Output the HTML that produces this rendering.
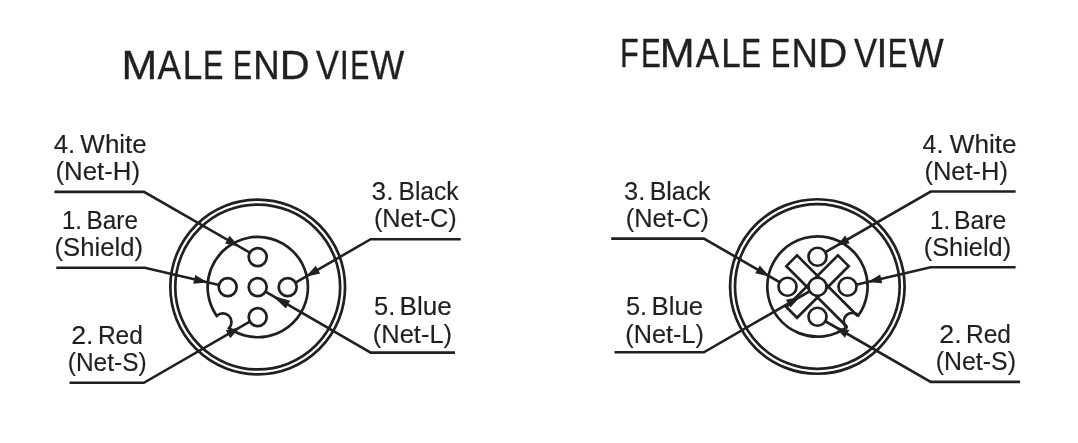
<!DOCTYPE html><html><head><meta charset="utf-8"><style>html,body{margin:0;padding:0;background:#fff;}svg{display:block;will-change:transform;} text{font-family:"Liberation Sans",sans-serif;}</style></head><body>
<svg width="1078" height="443" viewBox="0 0 1078 443">
<rect width="1078" height="443" fill="#fff"/>
<text transform="translate(125.08,78.62) scale(1.0505,1)" x="-3.34" y="0" font-size="40.77" fill="#231f20" stroke="#231f20" stroke-width="0.35">M</text>
<text transform="translate(157.48,78.62) scale(0.8637,1)" x="-0.08" y="0" font-size="40.77" fill="#231f20" stroke="#231f20" stroke-width="0.35">A</text>
<text transform="translate(185.68,78.62) scale(0.8594,1)" x="-3.34" y="0" font-size="40.77" fill="#231f20" stroke="#231f20" stroke-width="0.35">L</text>
<text transform="translate(205.48,78.62) scale(0.7490,1)" x="-3.34" y="0" font-size="40.77" fill="#231f20" stroke="#231f20" stroke-width="0.35">E</text>
<text transform="translate(235.28,78.62) scale(0.6992,1)" x="-3.34" y="0" font-size="40.77" fill="#231f20" stroke="#231f20" stroke-width="0.35">E</text>
<text transform="translate(256.18,78.62) scale(0.8979,1)" x="-3.34" y="0" font-size="40.77" fill="#231f20" stroke="#231f20" stroke-width="0.35">N</text>
<text transform="translate(283.18,78.62) scale(1.0166,1)" x="-3.34" y="0" font-size="40.77" fill="#231f20" stroke="#231f20" stroke-width="0.35">D</text>
<text transform="translate(316.07,78.62) scale(0.8403,1)" x="-0.18" y="0" font-size="40.77" fill="#231f20" stroke="#231f20" stroke-width="0.35">V</text>
<text transform="translate(342.88,78.62) scale(0.8021,1)" x="-3.76" y="0" font-size="40.77" fill="#231f20" stroke="#231f20" stroke-width="0.35">I</text>
<text transform="translate(352.48,78.62) scale(0.6992,1)" x="-3.34" y="0" font-size="40.77" fill="#231f20" stroke="#231f20" stroke-width="0.35">E</text>
<text transform="translate(370.57,78.62) scale(0.8765,1)" x="-0.18" y="0" font-size="40.77" fill="#231f20" stroke="#231f20" stroke-width="0.35">W</text>
<text transform="translate(622.57,66.62) scale(0.7529,1)" x="-3.33" y="0" font-size="40.63" fill="#231f20" stroke="#231f20" stroke-width="0.35">F</text>
<text transform="translate(643.47,66.62) scale(0.7289,1)" x="-3.33" y="0" font-size="40.63" fill="#231f20" stroke="#231f20" stroke-width="0.35">E</text>
<text transform="translate(663.17,66.62) scale(1.0285,1)" x="-3.33" y="0" font-size="40.63" fill="#231f20" stroke="#231f20" stroke-width="0.35">M</text>
<text transform="translate(695.77,66.62) scale(0.8668,1)" x="-0.08" y="0" font-size="40.63" fill="#231f20" stroke="#231f20" stroke-width="0.35">A</text>
<text transform="translate(724.07,66.62) scale(0.8625,1)" x="-3.33" y="0" font-size="40.63" fill="#231f20" stroke="#231f20" stroke-width="0.35">L</text>
<text transform="translate(743.77,66.62) scale(0.7289,1)" x="-3.33" y="0" font-size="40.63" fill="#231f20" stroke="#231f20" stroke-width="0.35">E</text>
<text transform="translate(773.38,66.62) scale(0.7108,1)" x="-3.33" y="0" font-size="40.63" fill="#231f20" stroke="#231f20" stroke-width="0.35">E</text>
<text transform="translate(794.47,66.62) scale(0.9011,1)" x="-3.33" y="0" font-size="40.63" fill="#231f20" stroke="#231f20" stroke-width="0.35">N</text>
<text transform="translate(821.57,66.62) scale(0.9912,1)" x="-3.33" y="0" font-size="40.63" fill="#231f20" stroke="#231f20" stroke-width="0.35">D</text>
<text transform="translate(854.17,66.62) scale(0.8508,1)" x="-0.18" y="0" font-size="40.63" fill="#231f20" stroke="#231f20" stroke-width="0.35">V</text>
<text transform="translate(880.07,66.62) scale(0.9634,1)" x="-3.75" y="0" font-size="40.63" fill="#231f20" stroke="#231f20" stroke-width="0.35">I</text>
<text transform="translate(890.27,66.62) scale(0.7244,1)" x="-3.33" y="0" font-size="40.63" fill="#231f20" stroke="#231f20" stroke-width="0.35">E</text>
<text transform="translate(908.88,66.62) scale(0.9112,1)" x="-0.18" y="0" font-size="40.63" fill="#231f20" stroke="#231f20" stroke-width="0.35">W</text>
<text transform="translate(54.38,153.33) scale(1.0220,1)" x="-0.58" y="0" font-size="25.22" fill="#231f20" stroke="#231f20" stroke-width="0.15">4.</text>
<text transform="translate(80.48,153.33) scale(1.0304,1)" x="-0.11" y="0" font-size="25.22" fill="#231f20" stroke="#231f20" stroke-width="0.15">White</text>
<text transform="translate(56.98,180.33) scale(1.0255,1)" x="-1.56" y="0" font-size="25.22" fill="#231f20" stroke="#231f20" stroke-width="0.15">(Net-H)</text>
<text transform="translate(63.78,229.12) scale(0.9489,1)" x="-1.92" y="0" font-size="25.22" fill="#231f20" stroke="#231f20" stroke-width="0.15">1.</text>
<text transform="translate(88.58,229.12) scale(0.9655,1)" x="-2.07" y="0" font-size="25.22" fill="#231f20" stroke="#231f20" stroke-width="0.15">Bare</text>
<text transform="translate(56.08,256.12) scale(1.0189,1)" x="-1.56" y="0" font-size="25.22" fill="#231f20" stroke="#231f20" stroke-width="0.15">(Shield)</text>
<text transform="translate(72.48,343.73) scale(1.0624,1)" x="-1.27" y="0" font-size="25.22" fill="#231f20" stroke="#231f20" stroke-width="0.15">2.</text>
<text transform="translate(99.88,343.73) scale(0.9737,1)" x="-2.07" y="0" font-size="25.22" fill="#231f20" stroke="#231f20" stroke-width="0.15">Red</text>
<text transform="translate(69.28,370.73) scale(0.9708,1)" x="-1.56" y="0" font-size="25.22" fill="#231f20" stroke="#231f20" stroke-width="0.15">(Net-S)</text>
<text transform="translate(372.57,200.23) scale(1.0383,1)" x="-0.96" y="0" font-size="25.22" fill="#231f20" stroke="#231f20" stroke-width="0.15">3.</text>
<text transform="translate(400.47,200.23) scale(0.9768,1)" x="-2.07" y="0" font-size="25.22" fill="#231f20" stroke="#231f20" stroke-width="0.15">Black</text>
<text transform="translate(375.47,227.23) scale(1.0029,1)" x="-1.56" y="0" font-size="25.22" fill="#231f20" stroke="#231f20" stroke-width="0.15">(Net-C)</text>
<text transform="translate(374.97,315.12) scale(1.0130,1)" x="-1.01" y="0" font-size="25.22" fill="#231f20" stroke="#231f20" stroke-width="0.15">5.</text>
<text transform="translate(401.68,315.12) scale(1.0352,1)" x="-2.07" y="0" font-size="25.22" fill="#231f20" stroke="#231f20" stroke-width="0.15">Blue</text>
<text transform="translate(374.38,342.73) scale(1.0108,1)" x="-1.56" y="0" font-size="25.22" fill="#231f20" stroke="#231f20" stroke-width="0.15">(Net-L)</text>
<text transform="translate(624.98,200.23) scale(1.0102,1)" x="-0.96" y="0" font-size="25.22" fill="#231f20" stroke="#231f20" stroke-width="0.15">3.</text>
<text transform="translate(651.68,200.23) scale(0.9885,1)" x="-2.07" y="0" font-size="25.22" fill="#231f20" stroke="#231f20" stroke-width="0.15">Black</text>
<text transform="translate(627.38,227.23) scale(1.0066,1)" x="-1.56" y="0" font-size="25.22" fill="#231f20" stroke="#231f20" stroke-width="0.15">(Net-C)</text>
<text transform="translate(626.88,315.12) scale(1.0074,1)" x="-1.01" y="0" font-size="25.22" fill="#231f20" stroke="#231f20" stroke-width="0.15">5.</text>
<text transform="translate(653.58,315.12) scale(1.0225,1)" x="-2.07" y="0" font-size="25.22" fill="#231f20" stroke="#231f20" stroke-width="0.15">Blue</text>
<text transform="translate(626.88,342.93) scale(1.0029,1)" x="-1.56" y="0" font-size="25.22" fill="#231f20" stroke="#231f20" stroke-width="0.15">(Net-L)</text>
<text transform="translate(923.18,153.43) scale(0.9834,1)" x="-0.58" y="0" font-size="25.22" fill="#231f20" stroke="#231f20" stroke-width="0.15">4.</text>
<text transform="translate(949.88,153.43) scale(1.0383,1)" x="-0.11" y="0" font-size="25.22" fill="#231f20" stroke="#231f20" stroke-width="0.15">White</text>
<text transform="translate(925.98,180.43) scale(1.0117,1)" x="-1.56" y="0" font-size="25.22" fill="#231f20" stroke="#231f20" stroke-width="0.15">(Net-H)</text>
<text transform="translate(931.88,229.12) scale(0.9489,1)" x="-1.92" y="0" font-size="25.22" fill="#231f20" stroke="#231f20" stroke-width="0.15">1.</text>
<text transform="translate(956.08,229.12) scale(0.9814,1)" x="-2.07" y="0" font-size="25.22" fill="#231f20" stroke="#231f20" stroke-width="0.15">Bare</text>
<text transform="translate(925.28,256.12) scale(1.0057,1)" x="-1.56" y="0" font-size="25.22" fill="#231f20" stroke="#231f20" stroke-width="0.15">(Shield)</text>
<text transform="translate(940.58,343.32) scale(1.0624,1)" x="-1.27" y="0" font-size="25.22" fill="#231f20" stroke="#231f20" stroke-width="0.15">2.</text>
<text transform="translate(967.98,343.32) scale(0.9737,1)" x="-2.07" y="0" font-size="25.22" fill="#231f20" stroke="#231f20" stroke-width="0.15">Red</text>
<text transform="translate(937.28,370.32) scale(0.9875,1)" x="-1.56" y="0" font-size="25.22" fill="#231f20" stroke="#231f20" stroke-width="0.15">(Net-S)</text>
<polyline points="54.40,191.90 144.00,191.90 257.70,257.10" fill="none" stroke="#231f20" stroke-width="2.6" stroke-linejoin="miter"/>
<polyline points="56.30,267.70 144.80,267.70 227.70,287.10" fill="none" stroke="#231f20" stroke-width="2.6" stroke-linejoin="miter"/>
<polyline points="69.50,382.80 143.90,382.80 257.70,317.10" fill="none" stroke="#231f20" stroke-width="2.6" stroke-linejoin="miter"/>
<polyline points="460.70,239.20 370.70,239.20 287.70,287.10" fill="none" stroke="#231f20" stroke-width="2.6" stroke-linejoin="miter"/>
<polyline points="455.00,352.60 370.70,352.60 257.70,287.10" fill="none" stroke="#231f20" stroke-width="2.6" stroke-linejoin="miter"/>
<polyline points="611.20,238.60 703.90,238.60 787.50,286.75" fill="none" stroke="#231f20" stroke-width="2.6" stroke-linejoin="miter"/>
<polyline points="614.50,352.30 703.90,352.30 817.50,286.75" fill="none" stroke="#231f20" stroke-width="2.6" stroke-linejoin="miter"/>
<polyline points="1015.60,191.50 930.70,191.50 817.50,256.75" fill="none" stroke="#231f20" stroke-width="2.6" stroke-linejoin="miter"/>
<polyline points="1015.60,267.30 930.70,267.30 847.50,286.75" fill="none" stroke="#231f20" stroke-width="2.6" stroke-linejoin="miter"/>
<polyline points="1020.10,381.90 930.70,381.90 817.50,316.75" fill="none" stroke="#231f20" stroke-width="2.6" stroke-linejoin="miter"/>
<circle cx="257.70" cy="287.00" r="87.35" fill="none" stroke="#231f20" stroke-width="2.7"/>
<circle cx="257.70" cy="287.00" r="82.45" fill="none" stroke="#231f20" stroke-width="2.7"/>
<path d="M216.75,315.91 A8.65,8.65 0 0 1 228.99,328.15 A50.15,50.15 0 1 0 216.75,315.91 Z" fill="none" stroke="#231f20" stroke-width="2.7"/>
<circle cx="257.70" cy="287.10" r="9.00" fill="#fff" stroke="#231f20" stroke-width="2.7"/>
<circle cx="257.70" cy="257.10" r="9.00" fill="#fff" stroke="#231f20" stroke-width="2.7"/>
<circle cx="227.70" cy="287.10" r="9.00" fill="#fff" stroke="#231f20" stroke-width="2.7"/>
<circle cx="287.70" cy="287.10" r="9.00" fill="#fff" stroke="#231f20" stroke-width="2.7"/>
<circle cx="257.70" cy="317.10" r="9.00" fill="#fff" stroke="#231f20" stroke-width="2.7"/>
<circle cx="817.35" cy="286.50" r="87.25" fill="none" stroke="#231f20" stroke-width="2.7"/>
<circle cx="817.35" cy="286.50" r="82.35" fill="none" stroke="#231f20" stroke-width="2.7"/>
<path d="M857.93,316.28 L797.06,255.42 L786.32,266.16 L847.18,327.03 M786.32,307.04 L837.94,255.42 L848.68,266.16 L797.06,317.78 Z" fill="none" stroke="#231f20" stroke-width="2.7" stroke-linejoin="miter"/>
<path d="M858.50,315.31 A8.65,8.65 0 0 0 846.26,327.55 A50.15,50.15 0 1 1 858.50,315.31 Z" fill="none" stroke="#231f20" stroke-width="2.7"/>
<circle cx="817.50" cy="286.75" r="9.00" fill="#fff" stroke="#231f20" stroke-width="2.7"/>
<circle cx="817.50" cy="256.75" r="9.00" fill="#fff" stroke="#231f20" stroke-width="2.7"/>
<circle cx="787.50" cy="286.75" r="9.00" fill="#fff" stroke="#231f20" stroke-width="2.7"/>
<circle cx="847.50" cy="286.75" r="9.00" fill="#fff" stroke="#231f20" stroke-width="2.7"/>
<circle cx="817.50" cy="316.75" r="9.00" fill="#fff" stroke="#231f20" stroke-width="2.7"/>
<polygon points="239.49,246.66 225.11,243.60 229.58,235.79" fill="#231f20"/>
<polygon points="207.88,282.46 193.22,283.65 195.27,274.89" fill="#231f20"/>
<polygon points="240.12,327.25 230.25,338.14 225.75,330.35" fill="#231f20"/>
<polygon points="305.83,276.64 315.70,265.74 320.20,273.54" fill="#231f20"/>
<polygon points="272.49,295.68 290.32,300.81 285.81,308.60" fill="#231f20"/>
<polygon points="769.62,276.45 755.25,273.37 759.74,265.57" fill="#231f20"/>
<polygon points="800.24,296.71 790.37,307.60 785.87,299.81" fill="#231f20"/>
<polygon points="836.22,245.96 845.23,235.57 849.73,243.37" fill="#231f20"/>
<polygon points="867.57,282.06 880.18,274.49 882.22,283.25" fill="#231f20"/>
<polygon points="834.98,326.81 849.36,329.89 844.87,337.69" fill="#231f20"/>
</svg></body></html>
